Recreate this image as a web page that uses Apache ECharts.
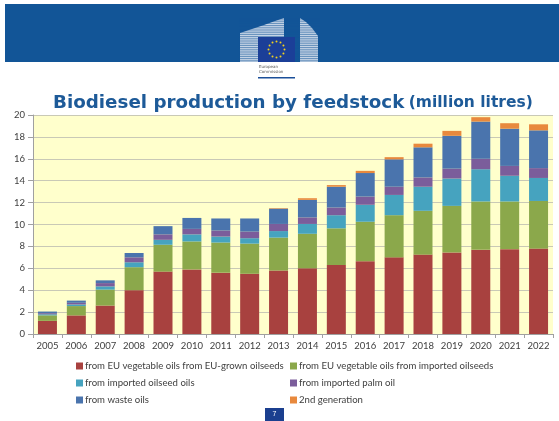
<!DOCTYPE html>
<html>
<head>
<meta charset="utf-8">
<script src="https://cdn.jsdelivr.net/npm/echarts@6/dist/echarts.min.js"></script>
<style>
html,body{margin:0;padding:0;background:#fff;}
#chart{width:559px;height:421px;}
</style>
</head>
<body>
<div id="chart"></div>
<script>
const years = ['2005','2006','2007','2008','2009','2010','2011','2012','2013','2014','2015','2016','2017','2018','2019','2020','2021','2022'];
const yTicks = [0,2,4,6,8,10,12,14,16,18,20];
const euGrown = [1.2,1.7,2.6,4.0,5.7,5.9,5.6,5.5,5.8,6.0,6.3,6.65,7.0,7.25,7.45,7.7,7.75,7.8];
const importedSeeds = [0.5,0.85,1.45,2.1,2.45,2.55,2.75,2.75,3.0,3.15,3.35,3.6,3.85,4.0,4.25,4.4,4.35,4.35];
const importedOils = [0.1,0.15,0.3,0.45,0.45,0.65,0.55,0.5,0.6,0.9,1.2,1.55,1.85,2.2,2.5,2.95,2.35,2.1];
const palmOil = [0.1,0.15,0.3,0.45,0.5,0.5,0.55,0.6,0.65,0.6,0.7,0.75,0.75,0.85,0.9,0.95,0.9,0.9];
const wasteOils = [0.15,0.2,0.25,0.4,0.75,1.0,1.1,1.2,1.4,1.6,1.9,2.15,2.5,2.75,3.0,3.4,3.4,3.45];
const secondGen = [0,0,0,0,0,0,0,0,0.05,0.15,0.15,0.2,0.2,0.33,0.45,0.4,0.5,0.55];
const seriesNames = [
  'from EU vegetable oils from EU-grown oilseeds',
  'from EU vegetable oils from imported oilseeds',
  'from imported oilseed oils',
  'from imported palm oil',
  'from waste oils',
  '2nd generation'
];
const seriesData = [euGrown, importedSeeds, importedOils, palmOil, wasteOils, secondGen];
const colors = ['#a8413f','#8ba84b','#46a3bf','#7b5d9b','#4a74ad','#e8893d'];

const band = '#125597';
const graphics = [
  {type:'rect', shape:{x:5,y:4,width:554,height:58}, style:{fill:band}, z:0},
  {type:'polygon', shape:{points:[[240,62],[240,33],[252,29],[264,25],[275,21],[284,18],[284,62]]}, style:{fill:'#c4d3e5'}, z:1},
  {type:'polygon', shape:{points:[[300,62],[300,18],[306,22],[312,28],[318,36],[318,62]]}, style:{fill:'#c4d3e5'}, z:1}
];
for (let y = 19; y < 62; y += 2.2) {
  graphics.push({type:'line', shape:{x1:239,y1:y,x2:320,y2:y}, style:{stroke:band,lineWidth:0.7,opacity:0.8}, z:2});
}
graphics.push({type:'rect', shape:{x:258,y:37,width:37,height:25}, style:{fill:'#1b3f98'}, z:3});
for (let i = 0; i < 12; i++) {
  const a = i * Math.PI / 6;
  graphics.push({type:'circle', shape:{cx:276.5 + 8*Math.cos(a), cy:49.5 + 8*Math.sin(a), r:1}, style:{fill:'#f3d21c'}, z:4});
}
graphics.push({type:'text', style:{x:259,y:65,text:'European',fontSize:4,fill:'#555',fontFamily:'DejaVu Sans'}, z:3});
graphics.push({type:'text', style:{x:259,y:70,text:'Commission',fontSize:4,fill:'#555',fontFamily:'DejaVu Sans'}, z:3});
graphics.push({type:'rect', shape:{x:258,y:77,width:37,height:1.6}, style:{fill:'#1b4f99'}, z:3});
graphics.push({type:'rect', shape:{x:265,y:408,width:19,height:13}, style:{fill:'#1b3f8f'}, z:3});
graphics.push({type:'text', style:{x:274.5,y:414,text:'7',fontSize:7,fill:'#fff',align:'center',verticalAlign:'middle',fontFamily:'Liberation Sans'}, z:4});

const chart = echarts.init(document.getElementById('chart'), null, {renderer:'canvas'});
chart.setOption({
  animation:false,
  backgroundColor:'#ffffff',
  textStyle:{fontFamily:'Lato'},
  title:{
    left:48, top:89,
    text:'{a|Biodiesel production by feedstock} {b|(million litres)}',
    textStyle:{
      rich:{
        a:{fontFamily:'DejaVu Sans',fontWeight:'bold',fontSize:18.3,color:'#1d5a98'},
        b:{fontFamily:'DejaVu Sans',fontWeight:'bold',fontSize:15.5,color:'#1d5a98'}
      }
    }
  },
  graphic:graphics,
  grid:{left:33,right:6,top:115,bottom:87,show:true,backgroundColor:'#ffffcc',borderWidth:0},
  legend:[
    {orient:'vertical',left:71,top:356,itemWidth:7,itemHeight:7,itemGap:7,icon:'rect',
     data:[seriesNames[0],seriesNames[2],seriesNames[4]],
     textStyle:{fontFamily:'Lato',fontSize:9.6,color:'#404040',padding:[0,0,0,-3]}},
    {orient:'vertical',left:285,top:356,itemWidth:7,itemHeight:7,itemGap:7,icon:'rect',
     data:[seriesNames[1],seriesNames[3],seriesNames[5]],
     textStyle:{fontFamily:'Lato',fontSize:9.6,color:'#404040',padding:[0,0,0,-3]}}
  ],
  xAxis:{
    type:'category', data:years,
    axisLine:{lineStyle:{color:'#a0a0a0'}},
    axisTick:{show:true,length:4,lineStyle:{color:'#a0a0a0'}},
    axisLabel:{color:'#404040',fontSize:9.5,fontFamily:'Lato',margin:7,interval:0}
  },
  yAxis:{
    type:'value', min:yTicks[0], max:yTicks[yTicks.length-1], interval:2,
    axisLine:{show:true,lineStyle:{color:'#a0a0a0'}},
    axisTick:{show:true,length:5,lineStyle:{color:'#a0a0a0'}},
    axisLabel:{color:'#404040',fontSize:9.5,fontFamily:'Lato',margin:8},
    splitLine:{lineStyle:{color:'#c9c9b6'}}
  },
  color:colors,
  series:seriesNames.map((n,i)=>({
    name:n, type:'bar', stack:'total', data:seriesData[i],
    barWidth:19, itemStyle:{color:colors[i]}
  }))
});
</script>
</body>
</html>
